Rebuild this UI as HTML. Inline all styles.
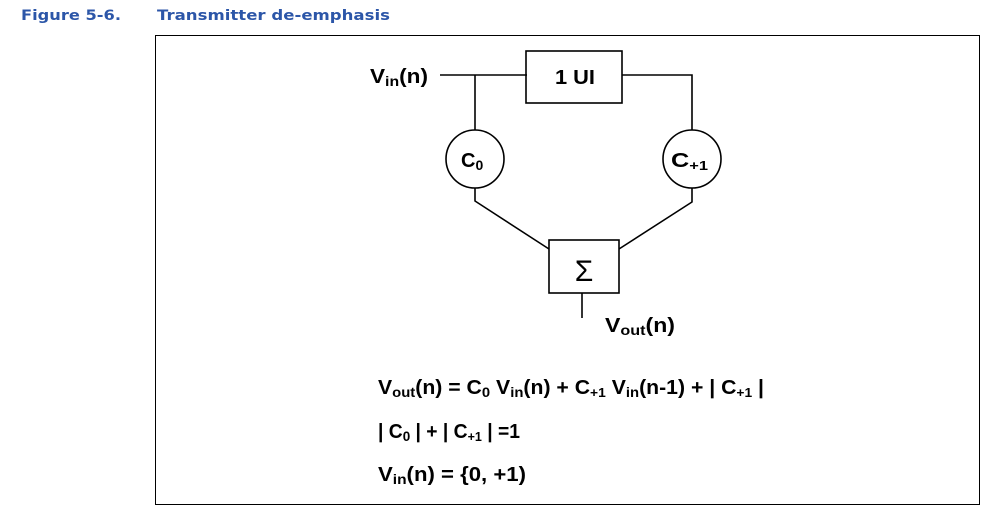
<!DOCTYPE html>
<html><head><style>body{margin:0;background:#fff}svg{display:block}</style></head><body>
<svg width="1000" height="519" xmlns="http://www.w3.org/2000/svg">
<g font-family="DejaVu Sans, sans-serif" font-weight="bold" font-size="14" fill="#2c56a8">
<text x="21" y="20" textLength="100" lengthAdjust="spacingAndGlyphs">Figure 5-6.</text>
<text x="157" y="20" textLength="233" lengthAdjust="spacingAndGlyphs">Transmitter de-emphasis</text>
</g>
<rect x="155.5" y="35.5" width="824" height="469" fill="none" stroke="#000" stroke-width="1"/>
<g stroke="#000" stroke-width="1.6" fill="none">
<line x1="440" y1="75" x2="527" y2="75"/>
<rect x="526" y="51" width="96" height="52"/>
<polyline points="622,75 692,75 692,130"/>
<line x1="475" y1="75" x2="475" y2="130"/>
<circle cx="475" cy="159" r="29" fill="#fff"/>
<circle cx="692" cy="159" r="29" fill="#fff"/>
<polyline points="475,188 475,201 549,249"/>
<polyline points="692,188 692,202 619,249"/>
<rect x="549" y="240" width="70" height="53"/>
<line x1="582" y1="293" x2="582" y2="318"/>
</g>
<g font-family="Liberation Sans, sans-serif" font-weight="bold" fill="#000" font-size="20">
<text x="370" y="83" textLength="58" lengthAdjust="spacingAndGlyphs">V<tspan font-size="14" dy="3">in</tspan><tspan dy="-3">(n)</tspan></text>
<text x="555" y="84" textLength="40" lengthAdjust="spacingAndGlyphs">1 UI</text>
<text x="461" y="167">C<tspan font-size="14" dy="3">0</tspan></text>
<text x="671" y="167" textLength="37" lengthAdjust="spacingAndGlyphs">C<tspan font-size="13" dy="3">+1</tspan></text>
<text x="584" y="281" font-size="30" font-weight="normal" text-anchor="middle">Σ</text>
<text x="605" y="332" textLength="70" lengthAdjust="spacingAndGlyphs">V<tspan font-size="14" dy="3">out</tspan><tspan dy="-3">(n)</tspan></text>
<text x="378" y="394" textLength="386" lengthAdjust="spacingAndGlyphs">V<tspan font-size="14" dy="3">out</tspan><tspan dy="-3">(n) = C</tspan><tspan font-size="14" dy="3">0</tspan><tspan dy="-3"> V</tspan><tspan font-size="14" dy="3">in</tspan><tspan dy="-3">(n) + C</tspan><tspan font-size="13" dy="3">+1</tspan><tspan dy="-3"> V</tspan><tspan font-size="14" dy="3">in</tspan><tspan dy="-3">(n-1) + | C</tspan><tspan font-size="13" dy="3">+1</tspan><tspan dy="-3"> |</tspan></text>
<text x="378" y="438" textLength="142" lengthAdjust="spacingAndGlyphs">| C<tspan font-size="14" dy="3">0</tspan><tspan dy="-3"> | + | C</tspan><tspan font-size="13" dy="3">+1</tspan><tspan dy="-3"> | =1</tspan></text>
<text x="378" y="481" textLength="148" lengthAdjust="spacingAndGlyphs">V<tspan font-size="14" dy="3">in</tspan><tspan dy="-3">(n) = {0, +1)</tspan></text>
</g>
</svg>
</body></html>
